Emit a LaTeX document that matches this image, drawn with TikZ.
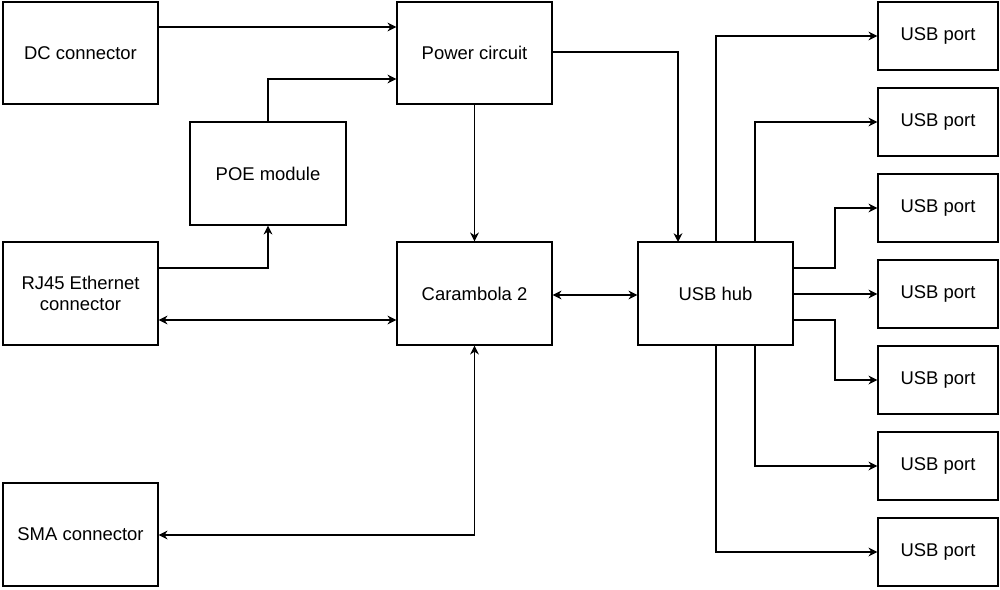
\documentclass[tikz,border=0pt]{standalone}
\usepackage{fontspec}
\setmainfont{Liberation Sans}
\usetikzlibrary{arrows.meta}
\begin{document}
\begin{tikzpicture}[x=0.02cm,y=-0.02cm,
  box/.style={draw,line width=0.8pt,inner sep=0pt,align=center,font=\fontsize{10.5}{12}\selectfont},
  con/.style={line width=0.8pt,-{Stealth[length=5pt,width=5pt]}},
  bi/.style={line width=0.8pt,{Stealth[length=5pt,width=5pt]}-{Stealth[length=5pt,width=5pt]}}]
\useasboundingbox (0,0) rectangle (1000,589);
\newcommand{\bx}[6]{\node[box,minimum width=#4*0.02cm,minimum height=#5*0.02cm] (#1) at (#2,#3) {#6};}
\bx{dc}{80.5}{53}{155}{102}{DC connector}
\bx{pw}{474.5}{53}{155}{102}{Power circuit}
\bx{poe}{268}{173.5}{156}{103}{POE module}
\bx{rj}{80.5}{293.5}{155}{103}{RJ45 Ethernet\\connector}
\bx{ca}{474.5}{293.5}{155}{103}{Carambola 2}
\bx{hub}{715.5}{293.5}{155}{103}{USB hub}
\bx{sma}{80.5}{534.5}{155}{103}{SMA connector}
\foreach \i/\y in {1/36,2/122,3/208,4/294,5/380,6/466,7/552}
  \node[box,minimum width=2.4cm,minimum height=1.36cm] (p\i) at (938,\y) {USB port};
\draw[con] (dc.east|-0,27) -- (pw.west|-0,27);
\draw[con] (poe.north) |- (pw.west|-0,79);
\draw[con] (rj.east|-0,268) -| (poe.south);
\draw[bi] (rj.east|-0,320) -- (ca.west|-0,320);
\draw[con] (pw.south) -- (ca.north);
\draw[con] (pw.east|-0,52) -| (678,242);
\draw[bi] (ca.east|-0,295) -- (hub.west|-0,295);
\draw[bi] (sma.east|-0,535) -| (ca.south);
\draw[con] (716,242) |- (p1.west);
\draw[con] (755,242) |- (p2.west);
\draw[con] (hub.east|-0,268) -- (835,268) |- (p3.west);
\draw[con] (hub.east|-0,294) -- (p4.west);
\draw[con] (hub.east|-0,320) -- (835,320) |- (p5.west);
\draw[con] (755,345) |- (p6.west);
\draw[con] (716,345) |- (p7.west);
\end{tikzpicture}
\end{document}
